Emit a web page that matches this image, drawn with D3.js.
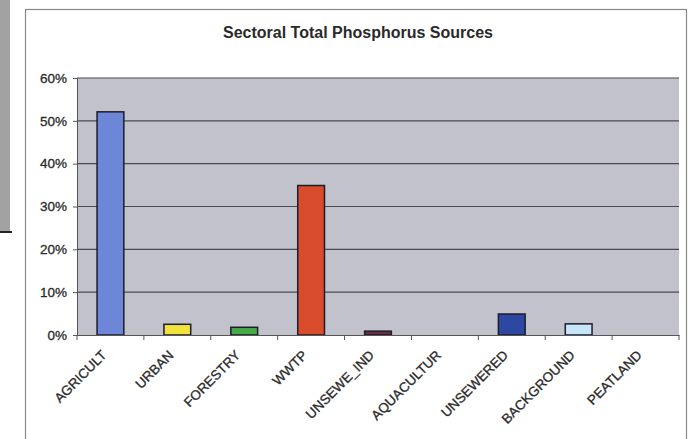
<!DOCTYPE html>
<html>
<head>
<script src="https://d3js.org/d3.v7.min.js"></script>
<style>
  body { margin: 0; background: #fff; }
  svg { display: block; font-family: "Liberation Sans", Arial, sans-serif; }
</style>
</head>
<body>
<div id="chart"></div>
<script>
  // data
  const sectors = ["AGRICULT", "URBAN", "FORESTRY", "WWTP", "UNSEWE_IND",
                   "AQUACULTUR", "UNSEWERED", "BACKGROUND", "PEATLAND"];
  const shares = [0.521, 0.025, 0.018, 0.349, 0.009, 0, 0.049, 0.026, 0];
  const barColors = ["#6e86d8", "#f2e23e", "#46aa46", "#d84c2c", "#6a2c44",
                     "#999999", "#2c48a2", "#c6e6fa", "#999999"];
  const yTicks = [0, 0.1, 0.2, 0.3, 0.4, 0.5, 0.6];

  const width = 692, height = 439;
  const plot = {left: 77, right: 679, top: 78, bottom: 335};

  const svg = d3.select("#chart").append("svg")
      .attr("width", width)
      .attr("height", height);

  // scanned page edge on the left
  svg.append("rect").attr("x", 0).attr("y", 0).attr("width", 10).attr("height", 232)
      .attr("fill", "#a2a2a2");
  svg.append("line").attr("x1", 0).attr("x2", 12).attr("y1", 232).attr("y2", 232)
      .attr("stroke", "#222").attr("stroke-width", 2);

  // chart frame
  svg.append("rect").attr("x", 25.5).attr("y", 9.5).attr("width", 661).attr("height", 440)
      .attr("fill", "#fff").attr("stroke", "#888").attr("stroke-width", 1.2);

  svg.append("text")
      .attr("x", 358).attr("y", 38)
      .attr("text-anchor", "middle")
      .attr("font-size", 16).attr("font-weight", "bold")
      .attr("fill", "#2a2a2a")
      .text("Sectoral Total Phosphorus Sources");

  const x = d3.scaleBand()
      .domain(sectors)
      .range([plot.left, plot.right])
      .paddingInner(0.6)
      .paddingOuter(0.3);

  const y = d3.scaleLinear()
      .domain([0, 0.6])
      .range([plot.bottom, plot.top]);

  svg.append("rect")
      .attr("x", plot.left).attr("y", plot.top)
      .attr("width", plot.right - plot.left).attr("height", plot.bottom - plot.top)
      .attr("fill", "#c2c2cc");

  // gridlines
  svg.append("g")
      .selectAll("line").data(yTicks.slice(1))
      .join("line")
        .attr("x1", plot.left).attr("x2", plot.right)
        .attr("y1", d => y(d)).attr("y2", d => y(d))
        .attr("stroke", "#4a4a4e").attr("stroke-width", 1.2);

  // bars
  svg.append("g")
      .selectAll("rect").data(sectors)
      .join("rect")
        .attr("x", d => x(d))
        .attr("y", (d, i) => y(shares[i]))
        .attr("width", x.bandwidth())
        .attr("height", (d, i) => y(0) - y(shares[i]))
        .attr("fill", (d, i) => barColors[i])
        .attr("stroke", "#1c1c2a")
        .attr("stroke-width", (d, i) => shares[i] > 0 ? 1.5 : 0);

  // y axis
  const yAxis = svg.append("g")
      .attr("transform", `translate(${plot.left},0)`)
      .call(d3.axisLeft(y).tickValues(yTicks).tickFormat(d3.format(".0%")).tickSize(4).tickPadding(6));
  yAxis.select(".domain").attr("stroke", "#555");
  yAxis.selectAll(".tick line").attr("stroke", "#555");
  yAxis.selectAll("text").attr("font-size", 13.5).attr("fill", "#2a2a2a")
      .attr("stroke", "#2a2a2a").attr("stroke-width", 0.3)
      .attr("font-family", "Liberation Sans, Arial, sans-serif");

  // x axis, ticks between categories
  const step = x.step();
  const xAxis = svg.append("g")
      .attr("transform", `translate(0,${plot.bottom})`)
      .call(d3.axisBottom(x).tickSize(0).tickPadding(0));
  xAxis.select(".domain").attr("stroke", "#555").attr("stroke-width", 1.2);
  xAxis.selectAll(".tick").append("line")
      .attr("x1", step / 2).attr("x2", step / 2)
      .attr("y1", 0).attr("y2", 5)
      .attr("stroke", "#555");
  xAxis.append("line")
      .attr("x1", plot.left).attr("x2", plot.left).attr("y1", 0).attr("y2", 5)
      .attr("stroke", "#555");
  xAxis.selectAll(".tick text")
      .attr("font-size", 13.5).attr("fill", "#2a2a2a")
      .attr("stroke", "#2a2a2a").attr("stroke-width", 0.3)
      .attr("font-family", "Liberation Sans, Arial, sans-serif")
      .attr("text-anchor", "end")
      .attr("dy", null).attr("y", null)
      .attr("transform", "translate(-3,21) rotate(-45)");
</script>
</body>
</html>
